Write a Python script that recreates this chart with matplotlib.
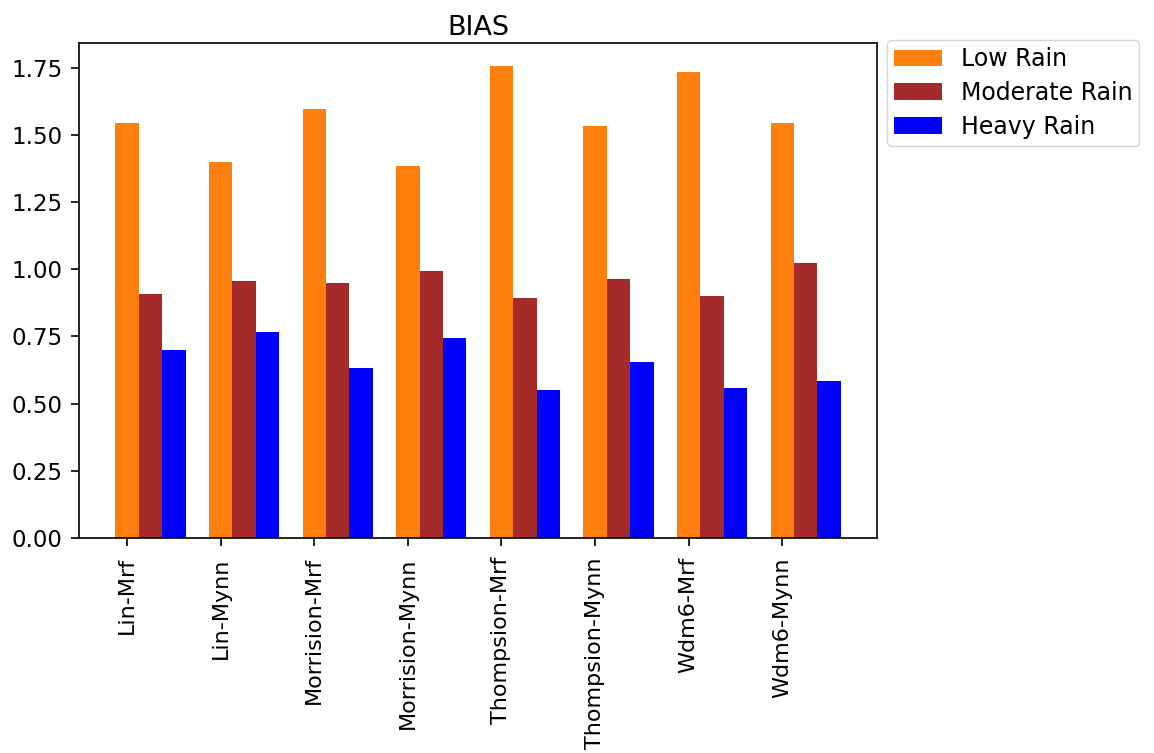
import numpy as np
import matplotlib
matplotlib.use("Agg")
import matplotlib.pyplot as plt

# ── Data ──────────────────────────────────────────────────────────
schemes = ["Lin-Mrf", "Lin-Mynn", "Morrision-Mrf", "Morrision-Mynn",
           "Thompsion-Mrf", "Thompsion-Mynn", "Wdm6-Mrf", "Wdm6-Mynn"]
low_rain      = [1.545, 1.397, 1.597, 1.385, 1.754, 1.531, 1.735, 1.545]
moderate_rain = [0.908, 0.957, 0.949, 0.994, 0.894, 0.964, 0.901, 1.024]
heavy_rain    = [0.700, 0.767, 0.633, 0.745, 0.551, 0.655, 0.558, 0.585]

# ── Plot ──────────────────────────────────────────────────────────
plt.rcParams["font.size"] = 16.5
plt.rcParams["axes.linewidth"] = 1.2
plt.rcParams["xtick.major.size"] = 5.8
plt.rcParams["ytick.major.size"] = 5.8
plt.rcParams["xtick.major.width"] = 1.2
plt.rcParams["ytick.major.width"] = 1.2
plt.rcParams["xtick.major.pad"] = 8
plt.rcParams["ytick.major.pad"] = 6
plt.rcParams["xtick.labelsize"] = 16

x = np.arange(len(schemes))
w = 0.25

fig = plt.figure(figsize=(11.54, 7.53), dpi=100)
ax = fig.add_axes([0.0685, 0.2855, 0.6915, 0.6575])

ax.bar(x, low_rain, w, color="#ff7f0e", label="Low Rain")
ax.bar(x + w, moderate_rain, w, color="brown", label="Moderate Rain")
ax.bar(x + 2 * w, heavy_rain, w, color="blue", label="Heavy Rain")

ax.set_xticks(x)
ax.set_xticklabels(schemes, rotation=90)
ax.set_yticks(np.arange(0, 1.76, 0.25))
ax.set_title("BIAS", fontsize=19.5)

ax.legend(loc="upper left", bbox_to_anchor=(1.013, 1.006),
          borderaxespad=0, fontsize=17, labelspacing=0.42, borderpad=0.3)

plt.savefig("out.png", dpi=100)
plt.close()
